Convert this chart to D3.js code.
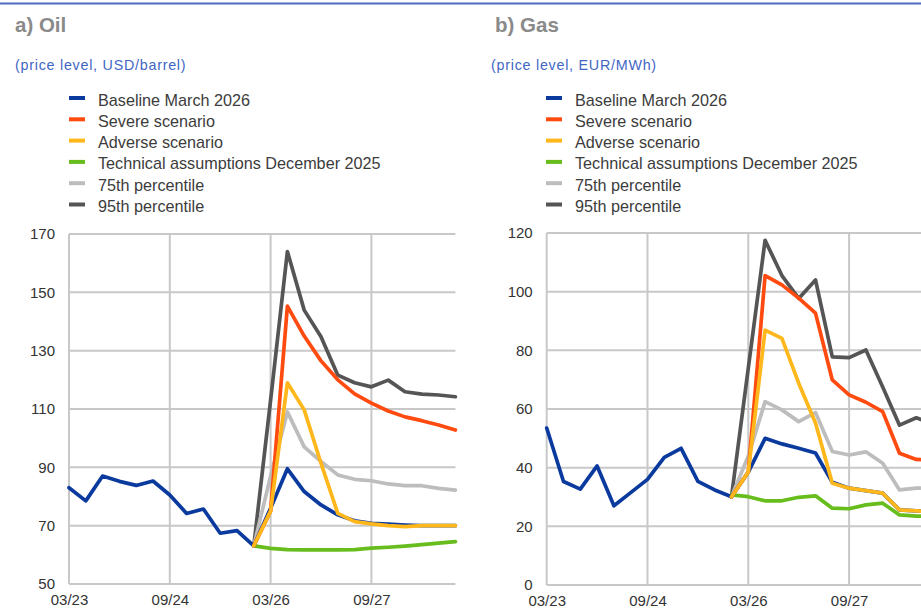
<!DOCTYPE html>
<html>
<head>
<meta charset="utf-8">
<script src="https://cdn.jsdelivr.net/npm/d3@7"></script>
<style>
  body { margin: 0; background: #fff; }
  svg text { font-family: "Liberation Sans", Arial, sans-serif; }
</style>
</head>
<body>
<div id="chart"></div>
<script>
// quarters, Q1 2023 .. Q4 2028
var quarters = ["2023Q1","2023Q2","2023Q3","2023Q4","2024Q1","2024Q2","2024Q3","2024Q4",
                "2025Q1","2025Q2","2025Q3","2025Q4","2026Q1","2026Q2","2026Q3","2026Q4",
                "2027Q1","2027Q2","2027Q3","2027Q4","2028Q1","2028Q2","2028Q3","2028Q4"];
// projections start from the last observed quarter
var projQuarters = quarters.slice(11);

var tickQuarters = ["2023Q1", "2024Q3", "2026Q1", "2027Q3"];
var tickLabels = ["03/23", "09/24", "03/26", "09/27"];

var seriesNames = ["Baseline March 2026", "Severe scenario", "Adverse scenario",
                   "Technical assumptions December 2025", "75th percentile", "95th percentile"];
var seriesColours = ["#0b3a9e", "#ff4b10", "#ffb71b", "#67bd1c", "#bdbdbd", "#555555"];

// a) Oil, USD/barrel
var oilBaseline = [83, 78.5, 87, 85.2, 83.8, 85.3, 80.5, 74.2, 75.7, 67.4, 68.3, 63.1,
                   76, 89.5, 81.7, 77.1, 73.7, 71.7, 70.8, 70.5, 70.2, 70, 70, 70];
var oilSevere = [63.1, 75, 145.3, 135, 126.5, 120, 115.2, 112, 109.3, 107.3, 106, 104.5, 102.8];
var oilAdverse = [63.1, 75, 119, 109.7, 91.4, 74.2, 71.4, 70.6, 70, 69.7, 70, 70, 70];
var oilTechnical = [63.1, 62.2, 61.8, 61.7, 61.7, 61.7, 61.8, 62.3, 62.6, 63, 63.5, 64, 64.5];
var oilP75 = [63.1, 87, 109, 97, 92, 87.4, 85.9, 85.4, 84.3, 83.7, 83.7, 82.8, 82.2];
var oilP95 = [63.1, 113, 164, 143.9, 134.8, 121.6, 119, 117.6, 119.9, 115.9, 115.1, 114.8, 114.2];

// b) Gas, EUR/MWh
var gasBaseline = [53.5, 35.3, 32.7, 40.6, 27, 31.5, 36, 43.5, 46.6, 35.3, 32.4, 30.1,
                   38.5, 50, 48.1, 46.6, 45, 35, 33, 32.2, 31.3, 25.6, 25.3, 25];
var gasSevere = [30.1, 38.5, 105.5, 102.3, 97.8, 92.7, 69.9, 64.8, 62.3, 59.1, 44.9, 42.8, 42.5];
var gasAdverse = [30.1, 38.5, 86.9, 84.1, 68.8, 55.2, 34.7, 33, 32.2, 31.3, 25.6, 25.3, 25];
var gasTechnical = [30.7, 30.1, 28.7, 28.7, 29.9, 30.4, 26.2, 26, 27.3, 27.9, 23.9, 23.5, 23.5];
var gasP75 = [30.1, 44, 62.5, 59.7, 55.7, 58.8, 45.5, 44.3, 45.4, 41.5, 32.4, 33, 33];
var gasP95 = [30.1, 74, 117.5, 105.5, 97.7, 104, 77.8, 77.5, 80.1, 67.5, 54.5, 57, 55];

var width = 921, height = 609;

var svg = d3.select("#chart").append("svg")
    .attr("width", width)
    .attr("height", height);

// blue rule across the top
svg.append("line")
    .attr("x1", 0).attr("x2", width)
    .attr("y1", 3.5).attr("y2", 3.5)
    .style("stroke", "#4a6dc0")
    .style("stroke-width", 2);

function draw_panel(opts)
{
    var g = svg.append("g");

    g.append("text")
        .attr("x", opts.titleX)
        .attr("y", 32)
        .style("font-size", "20.5px")
        .style("font-weight", "bold")
        .style("fill", "#8a8a8a")
        .text(opts.title);

    g.append("text")
        .attr("x", opts.subX)
        .attr("y", 70)
        .style("font-size", "14.3px")
        .style("letter-spacing", "0.75px")
        .style("fill", "#3f66c4")
        .text(opts.subtitle);

    // legend
    var legend = g.selectAll(".legend")
        .data(seriesNames)
        .enter().append("g")
        .attr("class", "legend")
        .attr("transform", function(d, i) {
            return "translate(" + opts.legendX + "," + (100 + i * 21.3) + ")";
        });
    legend.append("rect")
        .attr("x", 0)
        .attr("y", -4)
        .attr("width", 16)
        .attr("height", 4)
        .style("fill", function(d, i) { return seriesColours[i]; });
    legend.append("text")
        .attr("x", opts.legendTextX - opts.legendX)
        .attr("y", 5.5)
        .style("font-size", "16.2px")
        .style("fill", "#3c3c3c")
        .text(function(d) { return d; });

    var x = d3.scalePoint()
        .domain(quarters)
        .range([opts.plotX, opts.plotX + 23 * 16.8]);

    var y = d3.scaleLinear()
        .domain(opts.domain)
        .range([opts.bottom, opts.top]);

    var grid = g.append("g");
    grid.selectAll(".hgrid")
        .data(opts.ticks)
        .enter().append("line")
        .attr("x1", opts.plotX)
        .attr("x2", x(quarters[quarters.length - 1]))
        .attr("y1", function(d) { return y(d); })
        .attr("y2", function(d) { return y(d); })
        .style("stroke", "#c8c8c8")
        .style("stroke-width", 2);
    grid.selectAll(".vgrid")
        .data(tickQuarters)
        .enter().append("line")
        .attr("x1", function(d) { return x(d); })
        .attr("x2", function(d) { return x(d); })
        .attr("y1", y(opts.domain[0]))
        .attr("y2", y(opts.domain[1]))
        .style("stroke", "#c8c8c8")
        .style("stroke-width", 2);

    var yAxis = d3.axisLeft(y).tickValues(opts.ticks).tickSize(0).tickPadding(14);
    var ya = g.append("g")
        .attr("transform", "translate(" + opts.plotX + ",0)")
        .call(yAxis);
    ya.select(".domain").remove();
    ya.selectAll("text")
        .style("font-size", "15px")
        .style("font-family", "'Liberation Sans', Arial, sans-serif")
        .style("fill", "#333");

    var xAxis = d3.axisBottom(x)
        .tickValues(tickQuarters)
        .tickFormat(function(d) { return tickLabels[tickQuarters.indexOf(d)]; })
        .tickSize(0)
        .tickPadding(10);
    var xa = g.append("g")
        .attr("transform", "translate(0," + opts.bottom + ")")
        .call(xAxis);
    xa.select(".domain").remove();
    xa.selectAll("text")
        .style("font-size", "15px")
        .style("font-family", "'Liberation Sans', Arial, sans-serif")
        .style("fill", "#333");

    var line = d3.line()
        .x(function(d) { return x(d.q); })
        .y(function(d) { return y(d.v); });

    function pairs(qs, vals) {
        return vals.map(function(v, i) { return {q: qs[i], v: v}; });
    }

    // drawing order: percentiles behind, scenarios on top
    var layers = [
        {data: pairs(projQuarters, opts.p95), colour: seriesColours[5]},
        {data: pairs(projQuarters, opts.p75), colour: seriesColours[4]},
        {data: pairs(projQuarters, opts.technical), colour: seriesColours[3]},
        {data: pairs(quarters, opts.baseline), colour: seriesColours[0]},
        {data: pairs(projQuarters, opts.severe), colour: seriesColours[1]},
        {data: pairs(projQuarters, opts.adverse), colour: seriesColours[2]}
    ];

    g.selectAll(".series")
        .data(layers)
        .enter().append("path")
        .attr("class", "series")
        .attr("d", function(d) { return line(d.data); })
        .style("fill", "none")
        .style("stroke", function(d) { return d.colour; })
        .style("stroke-width", 3.7)
        .style("stroke-linejoin", "round")
        .style("stroke-linecap", "round");
}

draw_panel({
    title: "a) Oil", titleX: 15,
    subtitle: "(price level, USD/barrel)", subX: 15,
    legendX: 69, legendTextX: 98,
    plotX: 69, top: 234, bottom: 584,
    domain: [50, 170], ticks: [50, 70, 90, 110, 130, 150, 170],
    baseline: oilBaseline, severe: oilSevere, adverse: oilAdverse,
    technical: oilTechnical, p75: oilP75, p95: oilP95
});

draw_panel({
    title: "b) Gas", titleX: 495,
    subtitle: "(price level, EUR/MWh)", subX: 491,
    legendX: 546, legendTextX: 575,
    plotX: 546.7, top: 233, bottom: 585,
    domain: [0, 120], ticks: [0, 20, 40, 60, 80, 100, 120],
    baseline: gasBaseline, severe: gasSevere, adverse: gasAdverse,
    technical: gasTechnical, p75: gasP75, p95: gasP95
});
</script>
</body>
</html>
